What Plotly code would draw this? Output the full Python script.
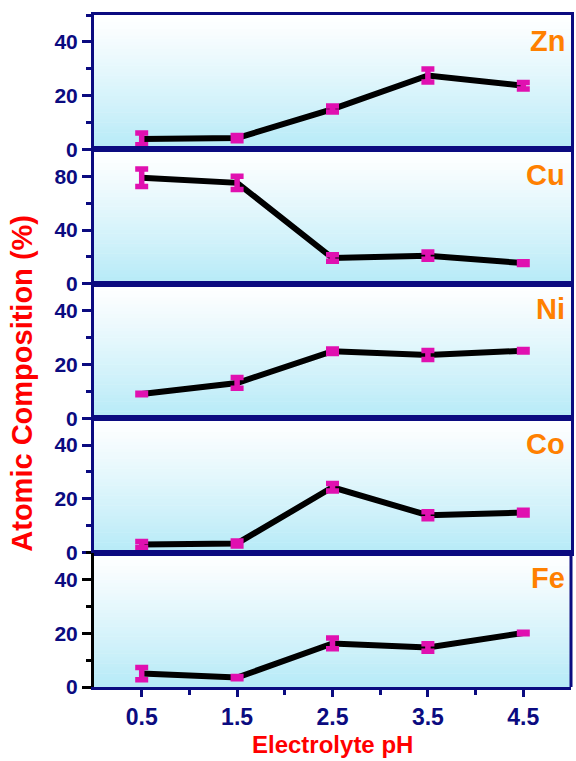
import plotly.graph_objects as go
from plotly.subplots import make_subplots

ph = [0.5, 1.5, 2.5, 3.5, 4.5]
elements = ["Zn", "Cu", "Ni", "Co", "Fe"]
zn = [3.9, 4.2, 15.0, 27.5, 23.7]
zn_err = [2.2, 1.0, 1.1, 2.4, 1.2]
cu = [78.9, 75.1, 19.2, 20.9, 15.4]
cu_err = [6.5, 5.0, 2.5, 2.7, 1.0]
ni = [9.0, 13.1, 24.9, 23.5, 25.1]
ni_err = [0.3, 2.0, 0.8, 1.7, 0.5]
co = [3.0, 3.4, 24.3, 13.9, 14.9]
co_err = [1.1, 0.9, 1.4, 1.3, 0.9]
fe = [5.0, 3.5, 16.2, 14.7, 20.1]
fe_err = [2.3, 0.4, 2.0, 1.4, 0.3]
y_max = [50, 100, 50, 50, 50]
y_dtick = [20, 40, 20, 20, 20]
x_ticks = ["0.5", "1.5", "2.5", "3.5", "4.5"]

series = [zn, cu, ni, co, fe]
errors = [zn_err, cu_err, ni_err, co_err, fe_err]

NAVY = "#0b0b80"
MAG = "#e010b0"
ORANGE = "#ff8000"
RED = "#ff0000"
FONT = "Liberation Sans, Arial, sans-serif"

fig = make_subplots(rows=5, cols=1, shared_xaxes=True, vertical_spacing=0)

# gradient backgrounds (white top -> light cyan bottom)
n_strip = 40
top = (255, 255, 255)
bot = (182, 234, 247)
for r in range(1, 6):
    xs = "x" if r == 1 else f"x{r}"
    ys = "y" if r == 1 else f"y{r}"
    for k in range(n_strip):
        t = 1 - (k + 0.5) / n_strip  # 1 at bottom, 0 at top
        t = t ** 1.15
        c = tuple(int(round(top[i] + (bot[i] - top[i]) * t)) for i in range(3))
        fig.add_shape(type="rect", xref=f"{xs} domain", yref=f"{ys} domain",
                      x0=0, x1=1, y0=k / n_strip - 0.002, y1=(k + 1) / n_strip + 0.002,
                      fillcolor=f"rgb{c}", line=dict(width=0), layer="below")

for i, (vals, errs) in enumerate(zip(series, errors)):
    r = i + 1
    fig.add_trace(go.Scatter(x=ph, y=vals, mode="lines",
                             line=dict(color="black", width=6),
                             showlegend=False, hoverinfo="skip"), row=r, col=1)
    fig.add_trace(go.Scatter(x=ph, y=vals, mode="markers",
                             marker=dict(size=1, opacity=0),
                             error_y=dict(type="data", array=errs, visible=True,
                                          color=MAG, thickness=5.5, width=6.5),
                             showlegend=False), row=r, col=1)
    is_fe = elements[i] == "Fe"
    axcol = "black" if is_fe else NAVY
    fig.update_yaxes(row=r, col=1, range=[0, y_max[i]], dtick=y_dtick[i], tick0=0,
                     showgrid=False, zeroline=False,
                     showline=True, linecolor=axcol, linewidth=3, mirror=not is_fe,
                     ticks="outside", ticklen=9, tickwidth=3, tickcolor=axcol,
                     minor=dict(ticks="outside", ticklen=5, tickwidth=3, tickcolor=axcol,
                                dtick=y_dtick[i] / 2, tick0=0),
                     tickfont=dict(family=FONT, size=21, color=NAVY, weight="bold"))
    fig.update_xaxes(row=r, col=1, range=[0, 5], showgrid=False, zeroline=False,
                     showline=True, linecolor=NAVY, linewidth=3, mirror=True,
                     ticks="", showticklabels=False)
    yd = "y" if r == 1 else f"y{r}"
    xd = "x" if r == 1 else f"x{r}"
    fig.add_annotation(text=elements[i], xref=f"{xd} domain", yref=f"{yd} domain",
                       x=0.992, y=0.81, xanchor="right", yanchor="middle", showarrow=False,
                       font=dict(family=FONT, size=29, color=ORANGE, weight="bold"))
    if is_fe:
        fig.add_shape(type="line", xref=f"{xd} domain", yref=f"{yd} domain",
                      x0=1, x1=1, y0=0, y1=1, line=dict(color=NAVY, width=3))

fig.update_xaxes(row=5, col=1, tickmode="array", tickvals=ph, ticktext=x_ticks,
                 ticks="outside", ticklen=7, tickwidth=3, tickcolor=NAVY,
                 showticklabels=True,
                 minor=dict(ticks="outside", ticklen=5, tickwidth=3, tickcolor=NAVY,
                            tickvals=[1, 2, 3, 4]),
                 tickfont=dict(family=FONT, size=23, color=NAVY, weight="bold"))

fig.add_annotation(text="Electrolyte pH", xref="paper", yref="paper", x=0.5, y=-0.1075,
                   xanchor="center", yanchor="bottom", showarrow=False, borderpad=0,
                   font=dict(family=FONT, size=24, color=RED, weight="bold"))
fig.add_annotation(text="Atomic Composition (%)", xref="paper", yref="paper",
                   x=-0.15, y=0.452, xanchor="center", yanchor="middle", textangle=-90,
                   showarrow=False,
                   font=dict(family=FONT, size=29, color=RED, weight="bold"))

fig.update_layout(width=576, height=761, margin=dict(l=94, r=2, t=15, b=74),
                  paper_bgcolor="white", plot_bgcolor="white")

fig.write_html("out.html")
